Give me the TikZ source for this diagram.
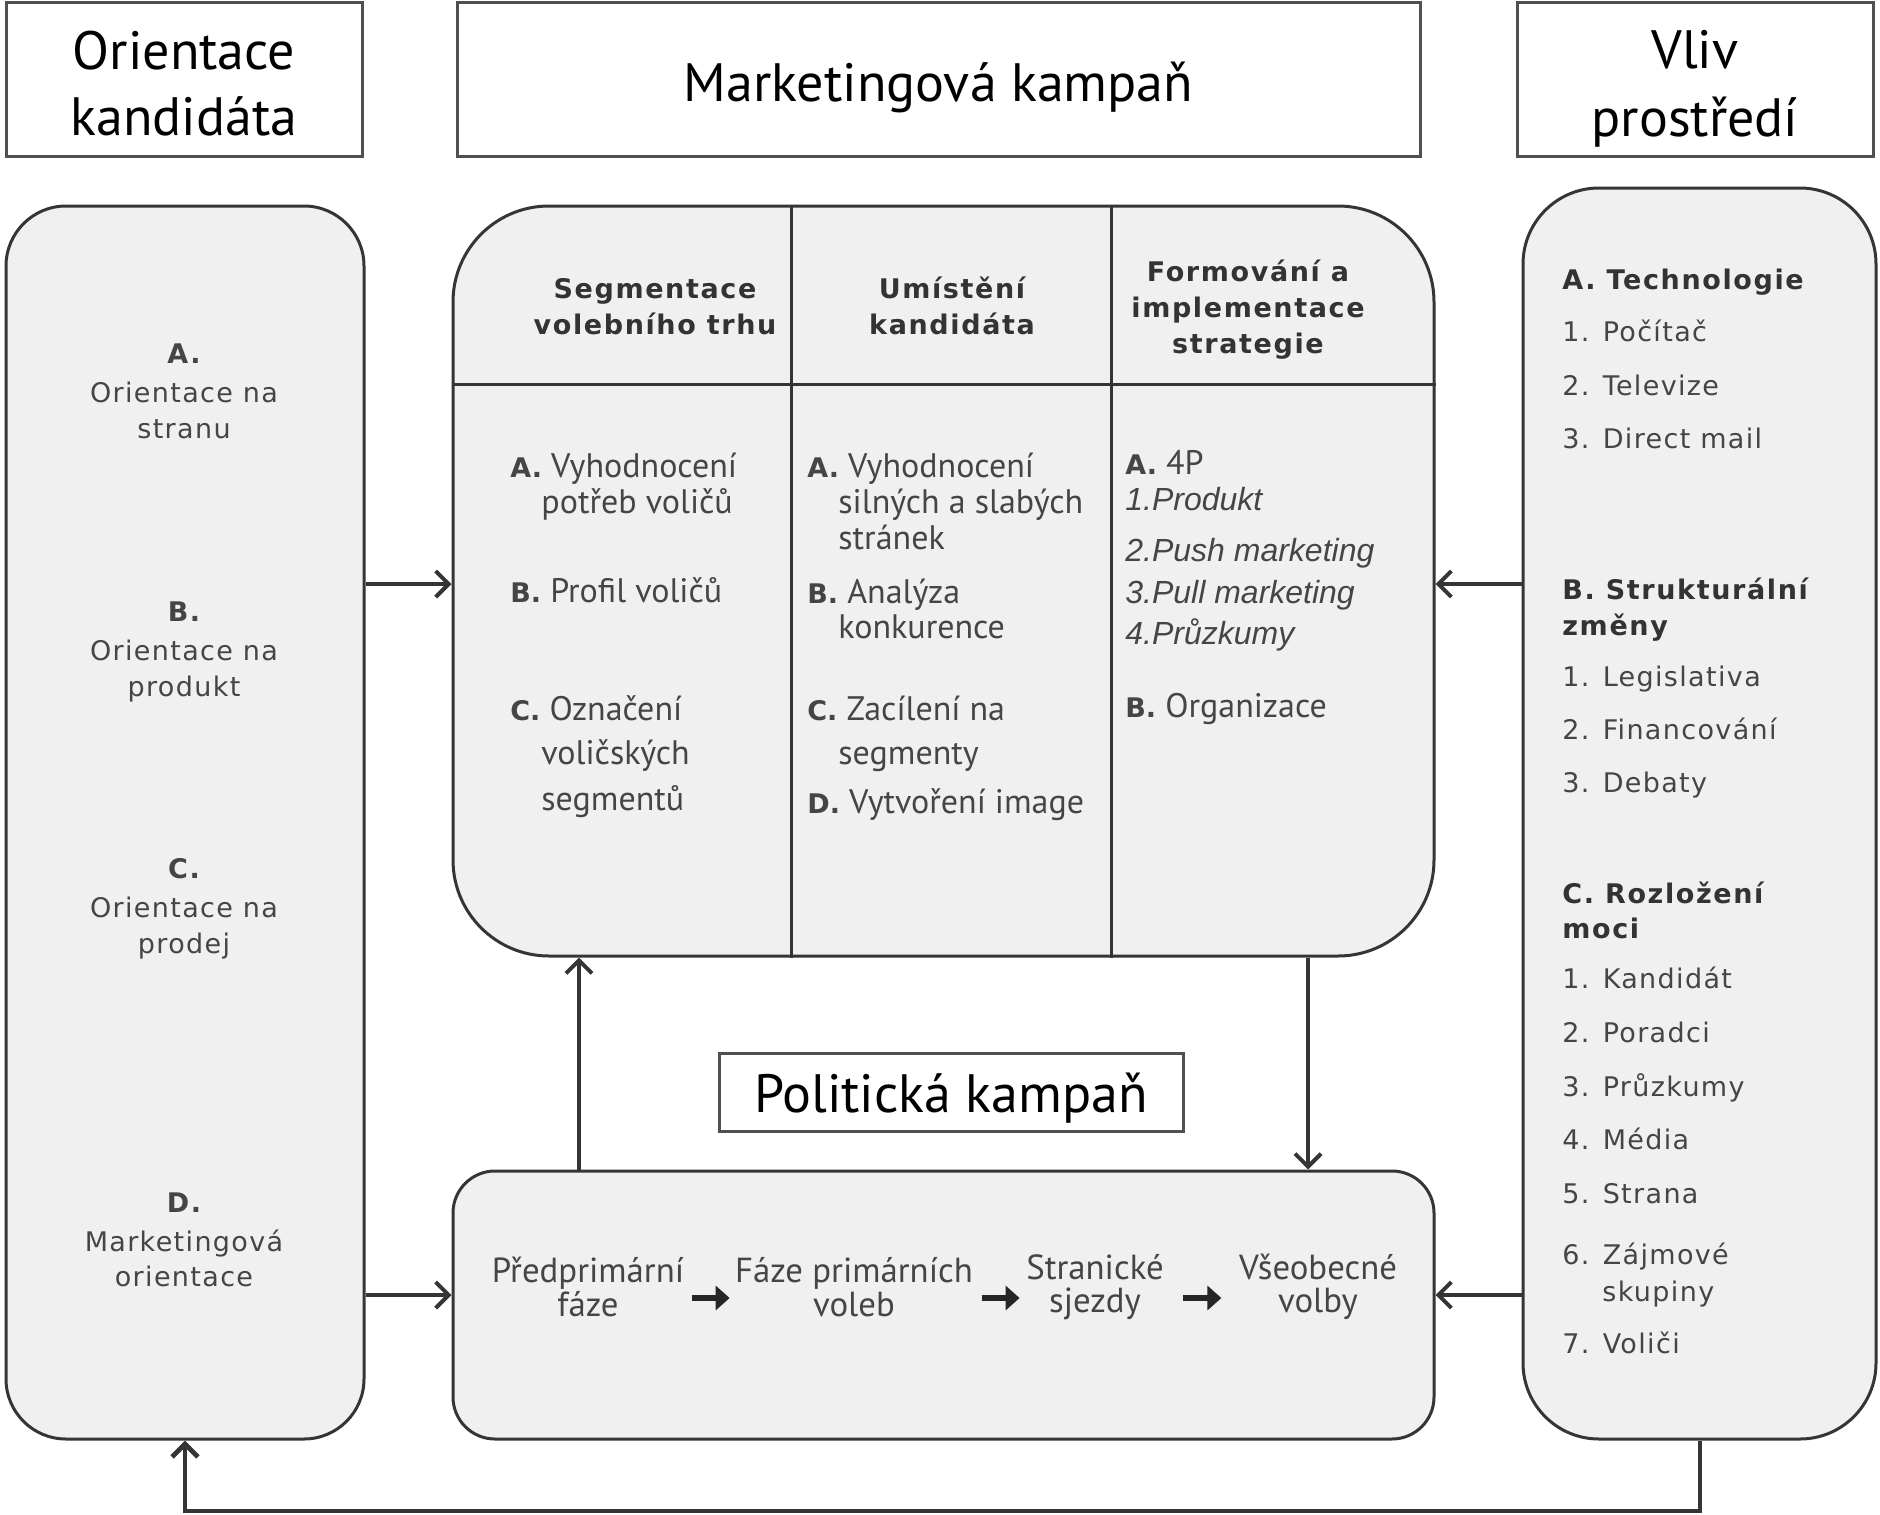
\documentclass[tikz,border=0pt]{standalone}
\usepackage{fontspec}
\setmainfont{DejaVu Sans}
\newfontfamily\titlefont{PT Sans}
\newfontfamily\italfont{Liberation Sans}
\newfontfamily\labfont{DejaVu Sans}
\newfontfamily\vfont{DejaVu Sans}[LetterSpace=5]
\newfontfamily\vbfont{DejaVu Sans}[LetterSpace=6]
\usetikzlibrary{arrows.meta,calc}
\definecolor{boxfill}{HTML}{F0F0F0}
\definecolor{edge}{HTML}{353535}
\definecolor{tedge}{HTML}{505050}
\definecolor{txt}{HTML}{454545}
\definecolor{hdrtxt}{HTML}{333333}
\newcommand\lab[1]{{\labfont\bfseries\fontsize{13.5}{16}\selectfont #1}}
\begin{document}
\begin{tikzpicture}[x=0.5pt,y=-0.5pt,
  titlebox/.style={draw=tedge, line width=1.5pt, fill=white, inner sep=0pt},
  titletxt/.style={inner sep=0pt, align=center, font=\titlefont\fontsize{27}{33}\selectfont, text=black},
  bigbox/.style={draw=edge, line width=1.5pt, fill=boxfill, inner sep=0pt},
  ltxt/.style={anchor=mid, inner sep=0pt, yshift=-3pt, text=txt, font=\vfont\fontsize{13.5}{16}\selectfont},
  lhd/.style={anchor=mid, inner sep=0pt, yshift=-3pt, text=txt, font=\vbfont\bfseries\fontsize{13.5}{16}\selectfont},
  hdr/.style={anchor=mid, inner sep=0pt, yshift=-2.5pt, text=hdrtxt, font=\vbfont\bfseries\fontsize{13.5}{16}\selectfont},
  citem/.style={anchor=mid west, inner sep=0pt, yshift=-3pt, text=txt, font=\titlefont\fontsize{17}{20}\selectfont},
  iitem/.style={anchor=mid west, inner sep=0pt, yshift=-3pt, text=txt, font=\italfont\itshape\fontsize{16}{18}\selectfont},
  ritem/.style={anchor=mid west, inner sep=0pt, yshift=-2.5pt, text=txt, font=\vfont\fontsize{13.5}{16}\selectfont},
  rhead/.style={anchor=mid west, inner sep=0pt, yshift=-2.5pt, text=hdrtxt, font=\vbfont\bfseries\fontsize{13.5}{16}\selectfont},
  phase/.style={anchor=center, inner sep=0pt, align=center, text=txt, font=\titlefont\fontsize{17.4}{16.8}\selectfont},
  arr/.style={draw=edge, line width=2pt, -{Straight Barb[length=6.5pt,width=13pt]}},
  parr/.style={draw=black!85, line width=3pt, -{Triangle[length=7pt,width=12pt]}}
]
\useasboundingbox[fill=white] (0,0) rectangle (1880,1515);

% title boxes
\node[titlebox, minimum width=178pt, minimum height=77pt] (tL) at (184,79) {};
\node[titlebox, minimum width=481.5pt, minimum height=77pt] (tM) at (938.5,79) {};
\node[titlebox, minimum width=178pt, minimum height=77pt] (tR) at (1695,79) {};
\node[titletxt] (tLt) at ([yshift=-2.5pt]tL.center) {Orientace\\kandidáta};
\node[titletxt] (tMt) at ([yshift=-4pt]tM.center) {Marketingová kampaň};
\node[titletxt, font=\titlefont\fontsize{27}{34}\selectfont] (tRt) at ([yshift=-5pt]tR.center) {Vliv\\prostředí};

% big boxes
\node[bigbox, rounded corners=30pt, minimum width=179pt, minimum height=616.5pt] (L) at (185,822.5) {};
\node[bigbox, rounded corners=48pt, minimum width=490.5pt, minimum height=375pt] (M) at (943.5,581) {};
\node[bigbox, rounded corners=21pt, minimum width=490.5pt, minimum height=134pt] (B) at (943.5,1305) {};
\node[bigbox, rounded corners=38pt, minimum width=176.5pt, minimum height=625.5pt] (R) at (1699.5,813.5) {};
\node[titlebox, minimum width=232pt, minimum height=39pt] (PK) at (951,1092) {};
\node[titletxt] (PKt) at ([yshift=-3pt]PK.center) {Politická kampaň};

% marketing box grid
\coordinate (hy) at (0,384);
\coordinate (cx1) at (791,0);
\coordinate (cx2) at (1111,0);
\draw[draw=edge, line width=1.5pt] (M.west |- hy) -- (M.east |- hy);
\draw[draw=edge, line width=1.5pt] (M.north -| cx1) -- (M.south -| cx1);
\draw[draw=edge, line width=1.5pt] (M.north -| cx2) -- (M.south -| cx2);

% headers
\foreach \n/\x/\y/\t in {h1a/655/288/Segmentace, h1b/655/324/volebního trhu,
  h2a/952/288/Umístění, h2b/952/324/kandidáta,
  h3a/1248/271/Formování a, h3b/1248/307/implementace, h3c/1248/343/strategie}
  \node[hdr] (\n) at (\x,\y) {\t};

% left box text
\foreach \n/\y/\t in {la/352/A., lb/610/B., lc/867/C., ld/1201/D.}
  \node[lhd] (\n) at (184,\y) {\t};
\foreach \n/\y/\t in {la1/391/Orientace na, la2/427/stranu,
  lb1/649/Orientace na, lb2/685/produkt,
  lc1/906/Orientace na, lc2/942/prodej,
  ld1/1240/Marketingová, ld2/1275/orientace}
  \node[ltxt] (\n) at (184,\y) {\t};

% column items
\foreach \n/\x/\y/\t in {
  c1a/510/466/{\lab{A.} Vyhodnocení}, c1a2/541/502/{potřeb voličů},
  c1b/510/591/{\lab{B.} Profil voličů},
  c1c/510/709/{\lab{C.} Označení}, c1c2/541/753/{voličských}, c1c3/541/799/{segmentů},
  c2a/807/466/{\lab{A.} Vyhodnocení}, c2a2/838/502/{silných a slabých}, c2a3/838/538/{stránek},
  c2b/807/592/{\lab{B.} Analýza}, c2b2/838/627/{konkurence},
  c2c/807/709/{\lab{C.} Zacílení na}, c2c2/838/753/{segmenty},
  c2d/807/802/{\lab{D.} Vytvoření image},
  c3a/1125/463/{\lab{A.} 4P}, c3b/1125/706/{\lab{B.} Organizace}}
  \node[citem] (\n) at (\x,\y) {\t};
\foreach \n/\y/\t in {c3a1/499/1.Produkt, c3a2/550/2.Push marketing,
  c3a3/592/3.Pull marketing, c3a4/633/4.Průzkumy}
  \node[iitem] (\n) at (1125,\y) {\t};

% right box
\foreach \n/\y/\t in {ra/279/A. Technologie, rb/589/B. Strukturální, rb0/625/změny,
  rc/893/C. Rozložení, rc0/928/moci}
  \node[rhead] (\n) at (1562,\y) {\t};
\foreach \n/\x/\y/\t in {ra1/1562/331/1. Počítač, ra2/1562/385/2. Televize, ra3/1562/438/3. Direct mail,
  rb1/1562/676/1. Legislativa, rb2/1562/729/2. Financování, rb3/1562/782/3. Debaty,
  rc1/1562/978/1. Kandidát, rc2/1562/1032/2. Poradci, rc3/1562/1086/3. Průzkumy,
  rc4/1562/1139/4. Média, rc5/1562/1193/5. Strana, rc6/1562/1254/6. Zájmové,
  rc6b/1602/1291/skupiny, rc7/1562/1343/7. Voliči}
  \node[ritem] (\n) at (\x,\y) {\t};

% phases
\node[phase] (p1) at (588,1287) {Předprimární\\fáze};
\node[phase] (p2) at (854,1287) {Fáze primárních\\voleb};
\node[phase] (p3) at (1095,1287) {Stranické\\sjezdy};
\node[phase] (p4) at (1318,1287) {Všeobecné\\volby};
\draw[parr] ($(p1.east)!0.5!(p2.west)+(-18,11)$) -- ($(p1.east)!0.5!(p2.west)+(20,11)$);
\draw[parr] ($(p2.east)!0.5!(p3.west)+(-18,11)$) -- ($(p2.east)!0.5!(p3.west)+(20,11)$);
\draw[parr] ($(p3.east)!0.5!(p4.west)+(-18,11)$) -- ($(p3.east)!0.5!(p4.west)+(20,11)$);

% connectors
\coordinate (yA) at (0,584);
\coordinate (yB) at (0,1295);
\coordinate (xU) at (579,0);
\coordinate (xD) at (1308,0);
\coordinate (xF) at (1700,0);
\coordinate (fb) at (185,1511);
\draw[arr] (L.east |- yA) -- (M.west |- yA);
\draw[arr] (L.east |- yB) -- (B.west |- yB);
\draw[arr] (R.west |- yA) -- (M.east |- yA);
\draw[arr] (R.west |- yB) -- (B.east |- yB);
\draw[arr] (B.north -| xU) -- (M.south -| xU);
\draw[arr] (M.south -| xD) -- (B.north -| xD);
\draw[arr, line width=2.4pt] (R.south -| xF) |- (fb) -- (L.south);
\end{tikzpicture}
\end{document}
